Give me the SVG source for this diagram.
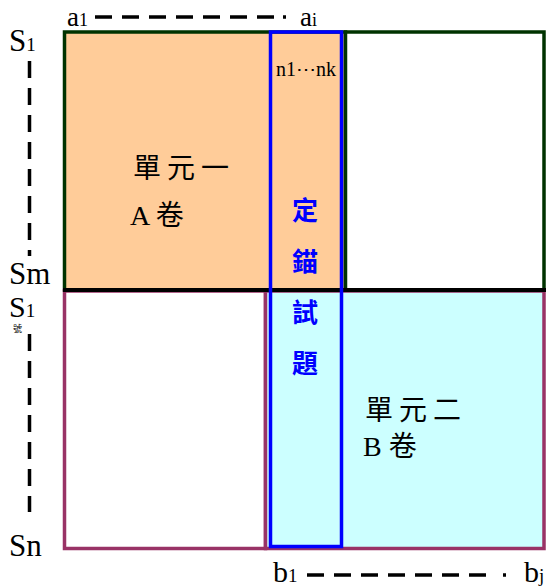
<svg xmlns="http://www.w3.org/2000/svg" width="548" height="588" viewBox="0 0 548 588">
<style>
.lbl{font-family:'Liberation Serif',serif;fill:#000}
.cjk{font-family:'Liberation Serif','Noto Sans CJK TC',serif;font-size:28px;fill:#000}
.anc{font-family:'Noto Sans CJK TC',sans-serif;font-size:26px;font-weight:bold;fill:#0000FF;text-anchor:middle}
.dash{stroke:#000;stroke-width:3.5;stroke-dasharray:17 10;fill:none}
</style>
<rect width="548" height="588" fill="#fff"/>
<g id="unitA">
<rect x="64.5" y="32" width="281" height="258" fill="#FFCC99" stroke="#003300" stroke-width="3.5"/>
<text class="cjk" x="133" y="178" letter-spacing="6">單元一</text>
<text class="cjk" x="130" y="225">A 卷</text>
</g>
<g id="topRight">
<rect x="345.5" y="32" width="198.5" height="258" fill="#fff" stroke="#003300" stroke-width="3.5"/>
</g>
<g id="bottomLeft">
<rect x="64.5" y="291" width="201" height="257.5" fill="#fff" stroke="#993366" stroke-width="3.5"/>
</g>
<g id="unitB">
<rect x="265.5" y="291" width="278.5" height="257.5" fill="#CCFFFF" stroke="#993366" stroke-width="3.5"/>
<text class="cjk" x="365" y="420" letter-spacing="6">單元二</text>
<text class="cjk" x="363" y="456">B 卷</text>
</g>
<g id="divider">
<line x1="63" y1="290" x2="546" y2="290" stroke="#000" stroke-width="4"/>
</g>
<g id="anchor">
<rect x="270.5" y="32" width="71" height="514.5" fill="none" stroke="#0000FF" stroke-width="3.5"/>
<text class="lbl" x="306" y="76" font-size="20" text-anchor="middle">n1⋯nk</text>
<text class="anc" x="305" y="220">定</text>
<text class="anc" x="305" y="271">錨</text>
<text class="anc" x="305" y="322">試</text>
<text class="anc" x="305" y="373">題</text>
</g>
<g id="connectors">
<line class="dash" x1="95" y1="17" x2="274" y2="17"/>
<line x1="283" y1="17" x2="286" y2="17" stroke="#000" stroke-width="3.5"/>
<line class="dash" x1="307" y1="575" x2="486" y2="575"/>
<line x1="503" y1="575" x2="506" y2="575" stroke="#000" stroke-width="3.5"/>
<line class="dash" x1="29.5" y1="61" x2="29.5" y2="256" stroke-dasharray="13 14"/>
<line class="dash" x1="29.5" y1="334" x2="29.5" y2="512" stroke-dasharray="13 14"/>
</g>
<g id="axisLabels">
<text class="lbl" x="67" y="26" font-size="27">a<tspan font-size="18">1</tspan></text>
<text class="lbl" x="300" y="26" font-size="27">a<tspan font-size="18">i</tspan></text>
<text class="lbl" x="273" y="582" font-size="30">b<tspan font-size="19">1</tspan></text>
<text class="lbl" x="524" y="582" font-size="30">b<tspan font-size="19">j</tspan></text>
<text class="lbl" x="9" y="51" font-size="31">S<tspan font-size="19">1</tspan></text>
<text class="lbl" x="9" y="284" font-size="31">Sm</text>
<text class="lbl" x="9" y="317" font-size="30">S<tspan font-size="19">1</tspan></text>
<text x="13" y="332" font-size="9" font-family="'Noto Sans CJK TC',sans-serif">號</text>
<text class="lbl" x="9" y="556" font-size="31">Sn</text>
</g>
</svg>
